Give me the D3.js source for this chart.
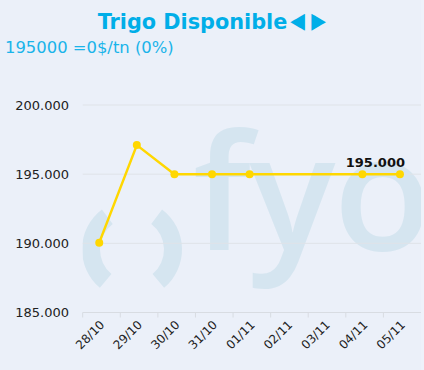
<!DOCTYPE html>
<html>
<head>
<meta charset="utf-8">
<script src="https://cdn.jsdelivr.net/npm/d3@7"></script>
<style>
  html, body { margin: 0; padding: 0; background: #eef2fa; }
  svg { display: block; }
</style>
</head>
<body>
<div id="chart"></div>
<script>
const dates = ["28/10", "29/10", "30/10", "31/10", "01/11", "02/11", "03/11", "04/11", "05/11"];
const prices = [190050, 197100, 195000, 195000, 195000, null, null, 195000, 195000];
const yTicks = [185000, 190000, 195000, 200000];

const titleText = "Trigo Disponible";
const arrowLabels = ["◄", "►"];
const subtitleText = "195000 =0$/tn (0%)";

const W = 424, H = 370;
const margin = { left: 82.7, right: 3, top: 105, bottom: 57.5 };
const FONT = "DejaVu Sans, Verdana, sans-serif";

const locale = d3.formatLocale({ decimal: ",", thousands: ".", grouping: [3], currency: ["", "$"] });
const fmt = locale.format(",.0f");

const svg = d3.select("#chart").append("svg")
  .attr("width", W)
  .attr("height", H);

svg.append("rect")
  .attr("width", W).attr("height", H)
  .attr("fill", "#eef2fa");
svg.append("rect")
  .attr("width", W - margin.right).attr("height", H)
  .attr("fill", "#ebf0f9");

const x = d3.scaleBand()
  .domain(dates)
  .range([margin.left, W - margin.right])
  .padding(0);

const y = d3.scaleLinear()
  .domain([185000, 200000])
  .range([H - margin.bottom, margin.top]);

const px = d => x(d) + x.bandwidth() * 0.44;

svg.append("clipPath")
  .attr("id", "plot-clip")
  .append("rect")
  .attr("x", margin.left)
  .attr("y", 0)
  .attr("width", W - margin.right - margin.left)
  .attr("height", H);

// watermark logo
const wmColor = "#d5e5f0";
const wm = svg.append("g").attr("clip-path", "url(#plot-clip)");
const ring = d3.arc().innerRadius(32).outerRadius(50);
const deg = Math.PI / 180;
[[220, 323], [37, 140]].forEach(([a0, a1]) => {
  wm.append("path")
    .attr("transform", "translate(132,249.5)")
    .attr("d", ring({ startAngle: a0 * deg, endAngle: a1 * deg }))
    .attr("fill", wmColor);
});
wm.append("text")
  .attr("x", 193)
  .attr("y", 250)
  .attr("font-family", "'Open Sans'")
  .attr("font-weight", 600)
  .attr("font-size", 161)
  .attr("letter-spacing", -2)
  .attr("fill", wmColor)
  .text("fyo");

// grid
svg.append("g")
  .selectAll("line")
  .data(yTicks.slice(1))
  .join("line")
  .attr("x1", margin.left)
  .attr("x2", W - margin.right)
  .attr("y1", d => y(d))
  .attr("y2", d => y(d))
  .attr("stroke", "#dfe3e8")
  .attr("stroke-width", 1);

// y axis labels
svg.append("g")
  .selectAll("text")
  .data(yTicks)
  .join("text")
  .attr("x", 69)
  .attr("y", d => y(d) + 4.5)
  .attr("text-anchor", "end")
  .attr("font-family", FONT)
  .attr("font-size", 13)
  .attr("fill", "#222")
  .text(d => fmt(d));

// x axis
const xAxis = svg.append("g")
  .attr("transform", `translate(0,${y(185000)})`);
xAxis.append("line")
  .attr("x1", margin.left)
  .attr("x2", W - margin.right)
  .attr("stroke", "#d8dce2");
xAxis.selectAll("line.tick")
  .data(dates)
  .join("line")
  .attr("class", "tick")
  .attr("x1", d => x(d))
  .attr("x2", d => x(d))
  .attr("y1", 0)
  .attr("y2", 5)
  .attr("stroke", "#d8dce2");
xAxis.selectAll("text")
  .data(dates)
  .join("text")
  .attr("transform", d => `translate(${px(d) + 6},${13}) rotate(-45)`)
  .attr("text-anchor", "end")
  .attr("font-family", FONT)
  .attr("font-size", 12)
  .attr("fill", "#222")
  .text(d => d);

// series
const series = dates.map((d, i) => ({ date: d, value: prices[i] })).filter(d => d.value != null);

const line = d3.line()
  .x(d => px(d.date))
  .y(d => y(d.value));

svg.append("path")
  .datum(series)
  .attr("d", line)
  .attr("fill", "none")
  .attr("stroke", "#ffd700")
  .attr("stroke-width", 2.5)
  .attr("stroke-linejoin", "round");

svg.append("g")
  .selectAll("circle")
  .data(series)
  .join("circle")
  .attr("cx", d => px(d.date))
  .attr("cy", d => y(d.value))
  .attr("r", 4)
  .attr("fill", "#ffd700");

// last value label, kept inside the plot
const last = series[series.length - 1];
svg.append("text")
  .attr("x", W - margin.right - 16)
  .attr("y", y(last.value) - 7.5)
  .attr("text-anchor", "end")
  .attr("font-family", FONT)
  .attr("font-weight", "bold")
  .attr("font-size", 13)
  .attr("fill", "#111")
  .text(fmt(last.value));

// title + arrows
const title = svg.append("text")
  .attr("y", 29)
  .attr("font-family", FONT)
  .attr("font-weight", "bold")
  .attr("font-size", 20.8)
  .attr("fill", "#00aee8")
  .text(titleText);
const tw = title.node().getComputedTextLength();
const tx = W / 2 - (tw + 39) / 2;
title.attr("x", tx);
arrowLabels.forEach((a, i) => {
  svg.append("text")
    .attr("transform", `translate(${tx + tw + 3 + i * 21},30.5) scale(0.95,1.7)`)
    .attr("font-family", FONT)
    .attr("font-size", 20)
    .attr("fill", "#00aee8")
    .text(a);
});

svg.append("text")
  .attr("x", 5)
  .attr("y", 53)
  .attr("font-family", FONT)
  .attr("font-size", 16.4)
  .attr("fill", "#1ab4ea")
  .text(subtitleText);
</script>
</body>
</html>
